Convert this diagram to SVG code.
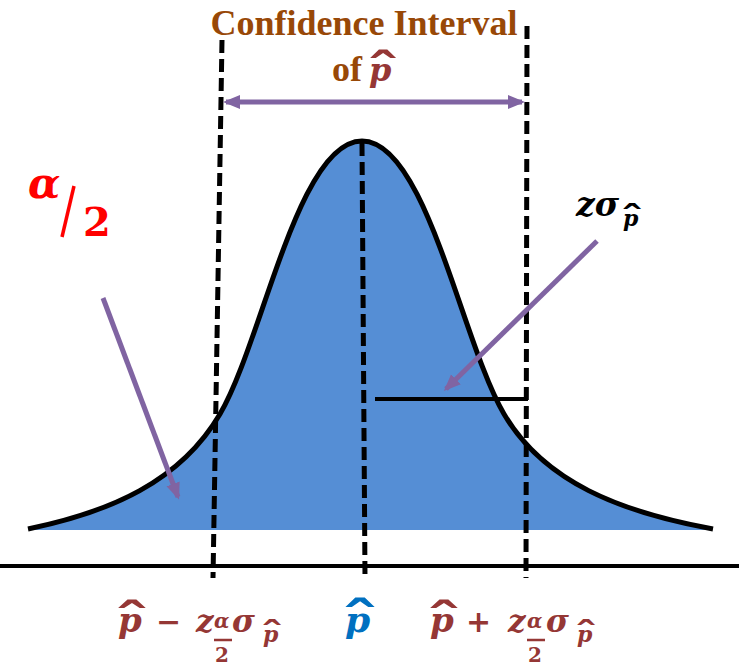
<svg xmlns="http://www.w3.org/2000/svg" width="739" height="666" viewBox="0 0 739 666">
<style>
.dash{stroke:#000;stroke-width:5;stroke-dasharray:13 6;fill:none}
.arr{stroke:#8064A2;stroke-width:5;fill:none}
.m{font-family:"DejaVu Serif","Liberation Serif",serif;font-weight:bold;font-style:italic}
.up{font-family:"DejaVu Serif","Liberation Serif",serif;font-weight:bold}
.hat{font-family:"DejaVu Serif","Liberation Serif",serif;font-weight:bold;text-anchor:middle}
.title{font-family:"Liberation Serif",serif;font-weight:bold;fill:#984807;font-size:36px}
.dr{fill:#953735}
</style>
<defs>
<marker id="ah" markerUnits="userSpaceOnUse" markerWidth="18" markerHeight="16" refX="14" refY="8" orient="auto-start-reverse" viewBox="0 0 18 16">
<path d="M0,1 L17,8 L0,15 z" fill="#8064A2"/>
</marker>
</defs>
<g id="curve">
<path d="M28,530 C110,512 180,482 220,414 C262,343 298,141 362,141 C426,141 462,343 504,414 C544,482 620,512 713,530 Z" fill="#558ED5"/>
<path d="M28,529 C110,512 180,482 220,414 C262,343 298,141 362,141 C426,141 462,343 504,414 C544,482 620,512 713,529" fill="none" stroke="#000" stroke-width="5"/>
</g>
<g id="axis">
<line x1="0" y1="566" x2="739" y2="566" stroke="#000" stroke-width="4"/>
</g>
<g id="connectors">
<line class="dash" x1="222" y1="40" x2="213" y2="578"/>
<line class="dash" x1="527" y1="26" x2="526" y2="578"/>
<line class="dash" x1="362" y1="143" x2="365" y2="577"/>
<line x1="375" y1="399" x2="528" y2="399" stroke="#000" stroke-width="4"/>
<line class="arr" x1="226" y1="102" x2="522" y2="102" marker-start="url(#ah)" marker-end="url(#ah)"/>
<line class="arr" x1="103" y1="298" x2="178" y2="497" marker-end="url(#ah)"/>
<line class="arr" x1="597" y1="241" x2="446" y2="389" marker-end="url(#ah)"/>
</g>
<g id="title">
<text class="title" x="364" y="35" text-anchor="middle">Confidence Interval</text>
<text class="title" x="332" y="81">of</text>
<text class="m dr" x="369" y="81" font-size="32">p</text>
<text class="hat dr" font-size="32" transform="translate(383,86) scale(2.2,1.4)">ˆ</text>
</g>
<g id="alpha-half" fill="#FF0000">
<text class="m" x="28" y="198" font-size="42">α</text>
<line x1="74" y1="186" x2="62" y2="237" stroke="#FF0000" stroke-width="3.5"/>
<text class="up" x="83" y="236" font-size="40">2</text>
</g>
<g id="z-sigma">
<text class="m" x="576" y="216" font-size="33">zσ</text>
<text class="m" x="623" y="226" font-size="22">p</text>
<text class="hat" font-size="22" transform="translate(632,229) scale(2.2,1.4)">ˆ</text>
</g>
<g id="label-left" class="dr">
<text class="m" x="118" y="632" font-size="34">p</text>
<text class="hat" font-size="34" transform="translate(132,637) scale(2.2,1.4)">ˆ</text>
<text class="up" x="156" y="632" font-size="30">−</text>
<text class="m" x="196" y="632" font-size="31">z</text>
<text class="m" x="214" y="628" font-size="20">α</text>
<line x1="214" y1="640" x2="232" y2="640" stroke="#953735" stroke-width="2.5"/>
<text class="up" x="215" y="662" font-size="20">2</text>
<text class="m" x="232" y="632" font-size="31">σ</text>
<text class="m" x="263" y="642" font-size="22">p</text>
<text class="hat" font-size="22" transform="translate(272,645) scale(2.2,1.4)">ˆ</text>
</g>
<g id="label-center">
<text class="m" x="345" y="632" font-size="36" fill="#0070C0">p</text>
<text class="hat" font-size="36" fill="#0070C0" transform="translate(360,638) scale(2.2,1.4)">ˆ</text>
</g>
<g id="label-right" class="dr">
<text class="m" x="430" y="632" font-size="34">p</text>
<text class="hat" font-size="34" transform="translate(444,637) scale(2.2,1.4)">ˆ</text>
<text class="up" x="466" y="632" font-size="30">+</text>
<text class="m" x="508" y="632" font-size="31">z</text>
<text class="m" x="527" y="628" font-size="20">α</text>
<line x1="527" y1="640" x2="545" y2="640" stroke="#953735" stroke-width="2.5"/>
<text class="up" x="528" y="662" font-size="20">2</text>
<text class="m" x="546" y="632" font-size="31">σ</text>
<text class="m" x="577" y="642" font-size="22">p</text>
<text class="hat" font-size="22" transform="translate(586,645) scale(2.2,1.4)">ˆ</text>
</g>
</svg>
